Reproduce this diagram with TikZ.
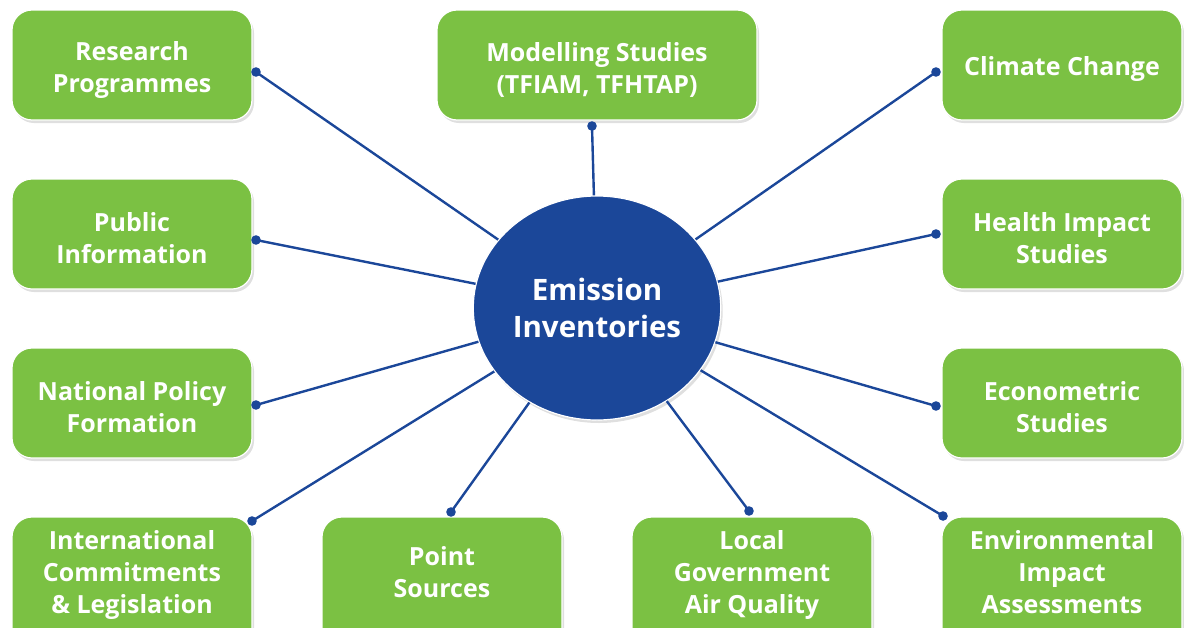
\documentclass[tikz,border=0pt]{standalone}
\usepackage{fontspec}
\setmainfont{Open Sans}
\usetikzlibrary{shapes.geometric,shadows}
\definecolor{boxgreen}{RGB}{123,193,67}
\definecolor{hubblue}{RGB}{27,71,153}
\newcommand{\toprow}{\rule{0pt}{28pt}}
\begin{document}
\begin{tikzpicture}[x=1pt,y=-1pt,
  topic/.style={draw=white, line width=1.2pt, fill=boxgreen, rounded corners=20pt,
    minimum width=240pt, minimum height=110pt, align=center, text=white,
    font=\fontsize{25}{32}\selectfont\bfseries,
    drop shadow={shadow xshift=2pt, shadow yshift=-3pt, opacity=0.25, fill=black!50}},
  hub/.style={ellipse, draw=white, line width=1.2pt, fill=hubblue, minimum width=240pt,
    minimum height=224pt, align=center, text=white,
    font=\fontsize{29.5}{37}\selectfont\bfseries,
    drop shadow={shadow xshift=2pt, shadow yshift=-3pt, opacity=0.25, fill=black!50}},
  link/.style={draw=hubblue, line width=2.4pt},
  dot/.style={fill=hubblue}]

\useasboundingbox (0,0) rectangle (1184,627);

\node[topic] (rp) at (132,65) {\toprow Research\\Programmes};
\node[topic] (pi) at (132,234) {\toprow Public\\Information};
\node[topic] (np) at (132,403) {\toprow National Policy\\Formation};
\node[topic, minimum height=142pt] (ic) at (132,588) {\toprow International\\Commitments\\\& Legislation\\\strut};
\node[topic, minimum width=320pt] (ms) at (597,65) {\toprow Modelling Studies\\(TFIAM, TFHTAP)};
\node[topic, minimum height=142pt] (ps) at (442,588) {\toprow Point\\Sources\\\strut};
\node[topic, minimum height=142pt] (lg) at (752,588) {\toprow Local\\Government\\Air Quality\\\strut};
\node[topic] (cc) at (1062,65) {\toprow Climate Change};
\node[topic] (hi) at (1062,234) {\toprow Health Impact\\Studies};
\node[topic] (es) at (1062,403) {\toprow Econometric\\Studies};
\node[topic, minimum height=142pt] (ea) at (1062,588) {\toprow Environmental\\Impact\\Assessments\\\strut};

\node[hub] (ei) at (597,308) {Emission\\Inventories};

\coordinate (d-rp) at (256,72);
\coordinate (d-pi) at (256,240);
\coordinate (d-np) at (256,405);
\coordinate (d-ic) at (252,521);
\coordinate (d-ms) at (592,126);
\coordinate (d-ps) at (451,512);
\coordinate (d-lg) at (749,511);
\coordinate (d-cc) at (936,72);
\coordinate (d-hi) at (936,234);
\coordinate (d-es) at (936,406);
\coordinate (d-ea) at (943,516);

\foreach \d in {rp,pi,np,ic,ms,ps,lg,cc,hi,es,ea}{
  \draw[link] (d-\d) -- (ei);
  \fill[dot] (d-\d) circle (4.8);
}
\end{tikzpicture}
\end{document}
